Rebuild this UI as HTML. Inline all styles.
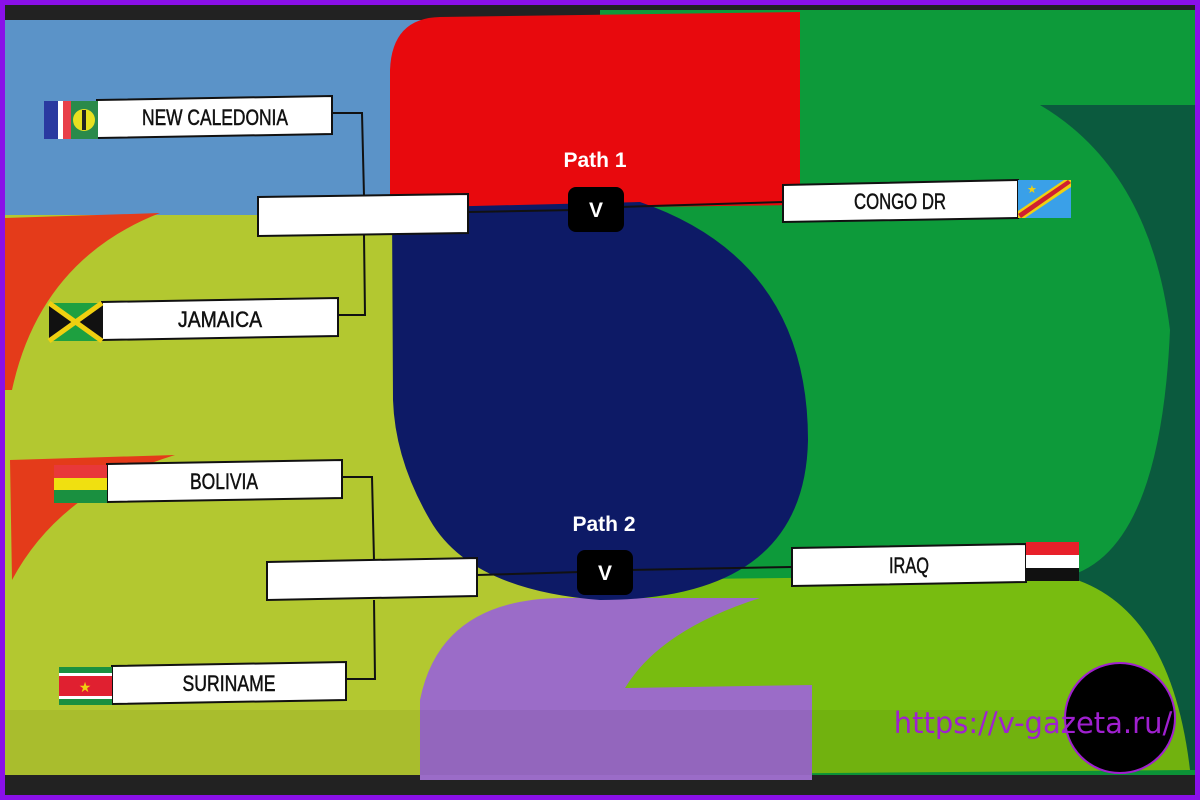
<!DOCTYPE html>
<html><head><meta charset="utf-8"><style>
html,body{margin:0;padding:0;background:#8a10e8;}
svg{display:block}
.t{font-family:"Liberation Sans",sans-serif;font-size:22px;fill:#111;text-anchor:middle;stroke:#111;stroke-width:0.5}
.p{font-family:"Liberation Sans",sans-serif;font-weight:bold;font-size:21px;fill:#fff;text-anchor:middle}
</style></head><body>
<svg width="1200" height="800" viewBox="0 0 1200 800" xmlns="http://www.w3.org/2000/svg">
<rect x="0" y="0" width="1200" height="800" fill="#8a10e8"/>
<rect x="5" y="5" width="1190" height="790" fill="#222"/>
<rect x="600" y="10" width="595" height="765" fill="#0d9a3a"/>
<path d="M1040 105 L1195 105 L1195 770 L1100 770 Q1180 650 1060 578 Q1160 560 1170 330 Q1150 170 1040 105 Z" fill="#0b5a3e"/>
<path d="M600 580 L1060 575 Q1170 600 1190 770 L600 775 Z" fill="#78bc10"/>
<rect x="5" y="20" width="440" height="198" fill="#5b93c8"/>
<rect x="5" y="215" width="600" height="560" fill="#b3c830"/>
<path d="M5 218 L160 213 Q40 260 12 390 L5 390 Z" fill="#e43b1a"/>
<path d="M10 460 L175 455 Q60 490 12 580 Z" fill="#e43b1a"/>
<path d="M390 210 L390 70 Q392 18 440 17 L800 12 L800 205 Z" fill="#e8090d"/>
<path d="M420 780 L420 700 Q440 600 560 598 L760 598 Q660 630 625 688 L812 685 L812 780 Z" fill="#9b6cc8"/>
<path d="M392 208 L640 202 Q808 260 808 440 Q805 600 600 600 Q470 590 430 520 Q395 460 393 400 Z" fill="#0d1a66"/>
<rect x="5" y="710" width="1190" height="65" fill="#000" opacity="0.05"/>
<g stroke="#111" stroke-width="2" fill="none">
<polyline points="332,113 362,113 364,196"/>
<polyline points="338,315 365,315 364,235"/>
<line x1="468" y1="212" x2="575" y2="210"/>
<line x1="620" y1="207" x2="783" y2="202"/>
<polyline points="342,477 372,477 374,560"/>
<polyline points="346,679 375,679 374,600"/>
<line x1="477" y1="575" x2="580" y2="572"/>
<line x1="630" y1="570" x2="792" y2="567"/>
</g>
<g stroke="#111" stroke-width="2" fill="#fff">
<polygon points="97,100 332,96 332,134 97,138"/>
<polygon points="258,197 468,194 468,233 258,236"/>
<polygon points="102,302 338,298 338,336 102,340"/>
<polygon points="107,464 342,460 342,498 107,502"/>
<polygon points="267,562 477,558 477,596 267,600"/>
<polygon points="112,666 346,662 346,700 112,704"/>
<polygon points="783,185 1018,180 1018,218 783,222"/>
<polygon points="792,548 1026,544 1026,582 792,586"/>
</g>
<rect x="44" y="101" width="14" height="38" fill="#2a3aa0"/><rect x="58" y="101" width="10" height="38" fill="#fff"/><rect x="63" y="101" width="8" height="38" fill="#e8404a"/>
<rect x="71" y="101" width="27" height="38" fill="#2a8a4a"/><circle cx="84" cy="120" r="11" fill="#e8e020"/><rect x="82" y="110" width="4" height="20" fill="#222"/>
<rect x="49" y="303" width="53" height="38" fill="#1ea040"/>
<path d="M49 303 L75 322 L49 341Z M102 303 L76 322 L102 341Z" fill="#111"/>
<path d="M49 303 L102 341 M102 303 L49 341" stroke="#f0d010" stroke-width="5"/>
<rect x="54" y="465" width="53" height="13" fill="#e8383a"/><rect x="54" y="478" width="53" height="12" fill="#f0e010"/><rect x="54" y="490" width="53" height="13" fill="#1a9040"/>
<rect x="59" y="667" width="53" height="38" fill="#1a9040"/><rect x="59" y="673" width="53" height="26" fill="#fff"/><rect x="59" y="676" width="53" height="20" fill="#e02030"/>
<text x="85" y="692" font-size="14" fill="#f0d010" text-anchor="middle">★</text>
<g><rect x="1018" y="180" width="53" height="38" fill="#3aa0e8"/><path d="M1018 211 L1064 180 L1071 180 L1071 187 L1025 218 L1018 218Z" fill="#f0d010"/><path d="M1018 214 L1068 180 L1071 183 L1021 218Z" fill="#d02030"/><text x="1027" y="193" font-size="11" fill="#f0d010">★</text></g>
<rect x="1026" y="542" width="53" height="13" fill="#e8202a"/><rect x="1026" y="555" width="53" height="13" fill="#fff"/><rect x="1026" y="568" width="53" height="13" fill="#111"/>
<text class="t" x="215" y="125" textLength="146" lengthAdjust="spacingAndGlyphs">NEW CALEDONIA</text>
<text class="t" x="220" y="327" textLength="84" lengthAdjust="spacingAndGlyphs">JAMAICA</text>
<text class="t" x="224" y="489" textLength="68" lengthAdjust="spacingAndGlyphs">BOLIVIA</text>
<text class="t" x="229" y="691" textLength="93" lengthAdjust="spacingAndGlyphs">SURINAME</text>
<text class="t" x="900" y="209" textLength="92" lengthAdjust="spacingAndGlyphs">CONGO DR</text>
<text class="t" x="909" y="573" textLength="40" lengthAdjust="spacingAndGlyphs">IRAQ</text>
<text class="p" x="595" y="167">Path 1</text>
<rect x="568" y="187" width="56" height="45" rx="8" fill="#000"/>
<text class="p" x="596" y="217" font-size="19">V</text>
<text class="p" x="604" y="531">Path 2</text>
<rect x="577" y="550" width="56" height="45" rx="8" fill="#000"/>
<text class="p" x="605" y="580" font-size="19">V</text>
<ellipse cx="1120" cy="718" rx="55" ry="55" fill="#000" stroke="#a020d0" stroke-width="2"/>
<text x="1033" y="733" font-family="DejaVu Sans, sans-serif" font-size="29" fill="#a020d0" text-anchor="middle">https://v-gazeta.ru/</text>
</svg>
</body></html>
